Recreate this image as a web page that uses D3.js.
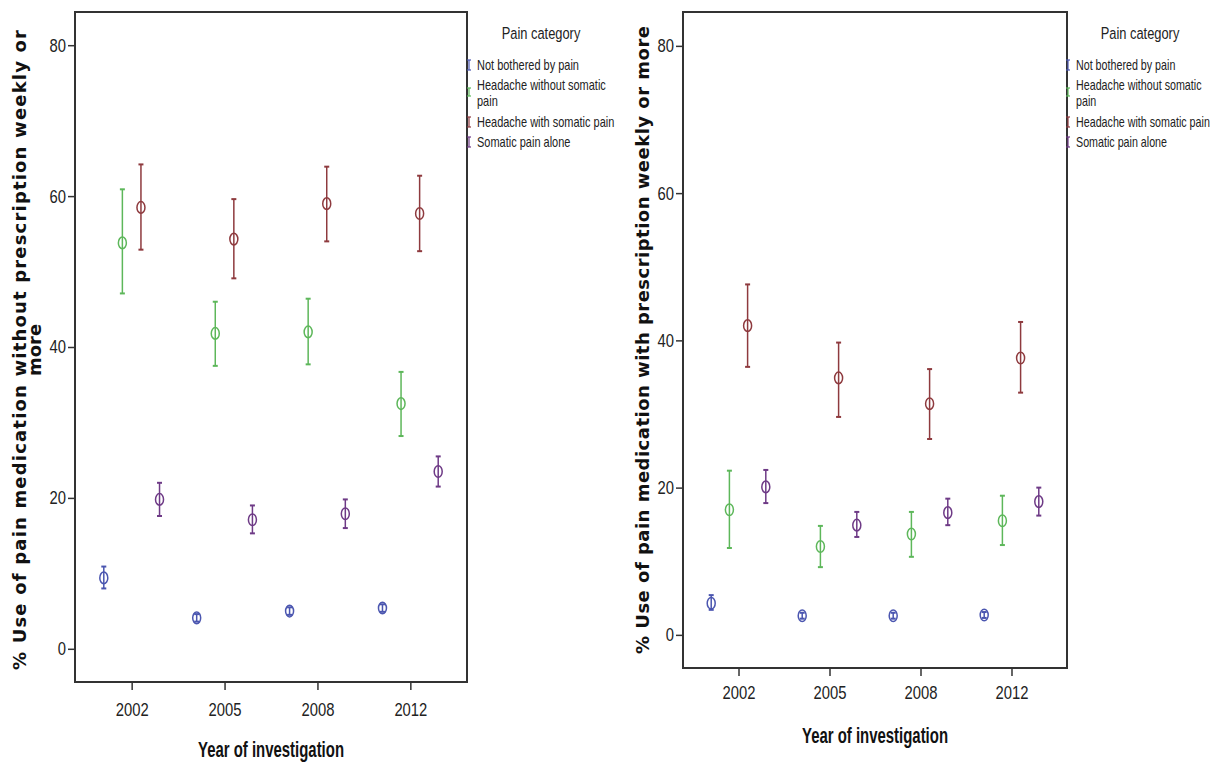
<!DOCTYPE html>
<html lang="en">
<head>
<meta charset="utf-8">
<title>Pain medication use by pain category</title>
<script src="https://cdn.jsdelivr.net/npm/d3@7"></script>
<style>
  body { margin: 0; background: #fff; }
  svg { display: block; }
  .narrow { font-family: "Liberation Sans", Arial, sans-serif; }
  .wide { font-family: "DejaVu Sans", Verdana, sans-serif; font-weight: bold; }
</style>
</head>
<body>
<svg id="chart" width="1219" height="762"></svg>
<script>
// categories and labels
var years = ["2002", "2005", "2008", "2012"];
var categories = ["Not bothered by pain", "Headache without somatic pain", "Headache with somatic pain", "Somatic pain alone"];
var colors = ["#4b56b0", "#5db75a", "#8e3a3e", "#6e3a86"];
var yTicks = [0, 20, 40, 60, 80];

// left panel: without prescription (rows = categories, cols = years)
var otcMean = [[9.4, 4.1, 5.0, 5.4], [53.8, 41.8, 42.0, 32.5], [58.5, 54.3, 59.0, 57.7], [19.8, 17.1, 17.9, 23.5]];
var otcLow  = [[8.0, 3.6, 4.5, 4.9], [47.1, 37.5, 37.7, 28.2], [52.9, 49.1, 54.0, 52.7], [17.6, 15.3, 16.0, 21.5]];
var otcHigh = [[10.9, 4.6, 5.5, 5.9], [60.9, 46.0, 46.4, 36.7], [64.2, 59.6, 63.9, 62.7], [22.0, 19.0, 19.8, 25.5]];

// right panel: with prescription
var rxMean = [[4.3, 2.6, 2.6, 2.7], [17.0, 12.0, 13.7, 15.5], [42.0, 34.9, 31.4, 37.6], [20.1, 14.9, 16.6, 18.1]];
var rxLow  = [[3.4, 2.2, 2.2, 2.3], [11.8, 9.2, 10.6, 12.2], [36.4, 29.6, 26.6, 32.9], [17.9, 13.3, 14.9, 16.2]];
var rxHigh = [[5.4, 3.0, 3.0, 3.1], [22.3, 14.8, 16.7, 18.9], [47.6, 39.7, 36.1, 42.5], [22.4, 16.7, 18.5, 20.0]];

var svg = d3.select("#chart");

// squeeze text horizontally (source uses a narrow face), scale about its own x
function condense(sel, f) {
  sel.each(function() {
    var t = d3.select(this);
    var x = +t.attr("x") || 0, y = +t.attr("y") || 0;
    t.attr("x", 0).attr("y", 0)
      .attr("transform", "translate(" + x + "," + y + ") scale(" + f + ",1)");
  });
}

var panels = [
  { mean: otcMean, low: otcLow, high: otcHigh,
    x0: 75, x1: 467, y0: 12, y1: 682, dom: [-4.4, 84.4], xPad: 13, xTitleY: 757,
    yTitle: ["% Use of pain medication without prescription weekly or", "more"], yTitleX: [26, 41],
    yTitleLen: [640, null], yTitleC: 350, legX: 469, legF: 0.785 },
  { mean: rxMean, low: rxLow, high: rxHigh,
    x0: 683, x1: 1067, y0: 12, y1: 668, dom: [-4.5, 84.6], xPad: 10, xTitleY: 743,
    yTitle: ["% Use of pain medication with prescription weekly or more"], yTitleX: [649],
    yTitleLen: [628], yTitleC: 340, legX: 1068, legF: 0.765 }
];

panels.forEach(function(p) {
  var x = d3.scalePoint().domain(years).range([p.x0, p.x1]).padding(0.61);
  var inner = d3.scaleBand().domain(categories)
    .range([-x.step() * 0.4, x.step() * 0.4]);
  var y = d3.scaleLinear().domain(p.dom).range([p.y1, p.y0]);

  var g = svg.append("g");

  // axes
  var xAxis = g.append("g")
    .attr("transform", "translate(0," + p.y1 + ")")
    .call(d3.axisBottom(x).tickSize(8).tickPadding(p.xPad));
  var yAxis = g.append("g")
    .attr("transform", "translate(" + p.x0 + ",0)")
    .call(d3.axisLeft(y).tickValues(yTicks).tickSize(7).tickPadding(2));
  [xAxis, yAxis].forEach(function(a) {
    a.select(".domain").remove();
    a.selectAll("line").attr("stroke", "#333").attr("stroke-width", 1.5);
    a.selectAll("text").attr("class", "narrow").attr("font-size", 18.5).attr("fill", "#222");
    condense(a.selectAll("text"), 0.8);
  });

  // frame
  g.append("rect")
    .attr("x", p.x0).attr("y", p.y0)
    .attr("width", p.x1 - p.x0).attr("height", p.y1 - p.y0)
    .attr("fill", "none").attr("stroke", "#333").attr("stroke-width", 2);

  // error bars
  categories.forEach(function(cat, ci) {
    var cg = g.append("g").attr("stroke", colors[ci]).attr("fill", "none").attr("stroke-width", 1.5);
    var pts = years.map(function(yr, j) {
      return { cx: x(yr) + inner(cat) + inner.bandwidth() / 2, m: p.mean[ci][j], lo: p.low[ci][j], hi: p.high[ci][j] };
    });
    var e = cg.selectAll("g").data(pts).enter().append("g");
    e.append("line")
      .attr("x1", function(d) { return d.cx; }).attr("x2", function(d) { return d.cx; })
      .attr("y1", function(d) { return y(d.lo); }).attr("y2", function(d) { return y(d.hi); });
    ["lo", "hi"].forEach(function(k) {
      e.append("line")
        .attr("x1", function(d) { return d.cx - 2.5; }).attr("x2", function(d) { return d.cx + 2.5; })
        .attr("y1", function(d) { return y(d[k]); }).attr("y2", function(d) { return y(d[k]); })
        .attr("stroke-width", 2);
    });
    e.append("ellipse")
      .attr("cx", function(d) { return d.cx; }).attr("cy", function(d) { return y(d.m); })
      .attr("rx", 4).attr("ry", 5.8);
  });

  // axis titles
  g.append("text")
    .attr("class", "narrow")
    .attr("x", (p.x0 + p.x1) / 2).attr("y", p.xTitleY)
    .attr("text-anchor", "middle").attr("font-size", 22).attr("font-weight", "bold")
    .attr("fill", "#111")
    .text("Year of investigation")
    .attr("textLength", 146).attr("lengthAdjust", "spacingAndGlyphs");

  p.yTitle.forEach(function(line, i) {
    var t = g.append("text")
      .attr("class", "wide")
      .attr("transform", "translate(" + p.yTitleX[i] + "," + p.yTitleC + ") rotate(-90)")
      .attr("text-anchor", "middle").attr("font-size", 18).attr("fill", "#111")
      .text(line);
    if (p.yTitleLen[i]) t.attr("textLength", p.yTitleLen[i]).attr("lengthAdjust", "spacing");
  });

  // legend
  var leg = g.append("g").attr("class", "narrow");
  var lt = leg.append("text")
    .attr("x", p.legX + 72).attr("y", 39)
    .attr("text-anchor", "middle").attr("font-size", 16.5).attr("fill", "#222")
    .text("Pain category");
  condense(lt, 0.78);

  var rows = [65, 85, 122, 142];
  categories.forEach(function(cat, ci) {
    var ry = ci === 1 ? 92 : rows[ci];
    var h = ci === 1 ? 8 : 10;
    var mk = leg.append("g").attr("stroke", colors[ci]).attr("stroke-width", 1.2);
    mk.append("line").attr("x1", p.legX).attr("x2", p.legX).attr("y1", ry - h / 2).attr("y2", ry + h / 2);
    mk.append("line").attr("x1", p.legX - 2).attr("x2", p.legX + 2).attr("y1", ry - h / 2).attr("y2", ry - h / 2);
    mk.append("line").attr("x1", p.legX - 2).attr("x2", p.legX + 2).attr("y1", ry + h / 2).attr("y2", ry + h / 2);

    var lines = ci === 1 ? [["Headache without somatic", rows[1]], ["pain", 101]] : [[cat, rows[ci]]];
    lines.forEach(function(l) {
      var t = leg.append("text")
        .attr("x", p.legX + 8).attr("y", l[1] + 5)
        .attr("font-size", 14).attr("fill", "#222")
        .text(l[0]);
      condense(t, p.legF);
    });
  });
});
</script>
</body>
</html>
